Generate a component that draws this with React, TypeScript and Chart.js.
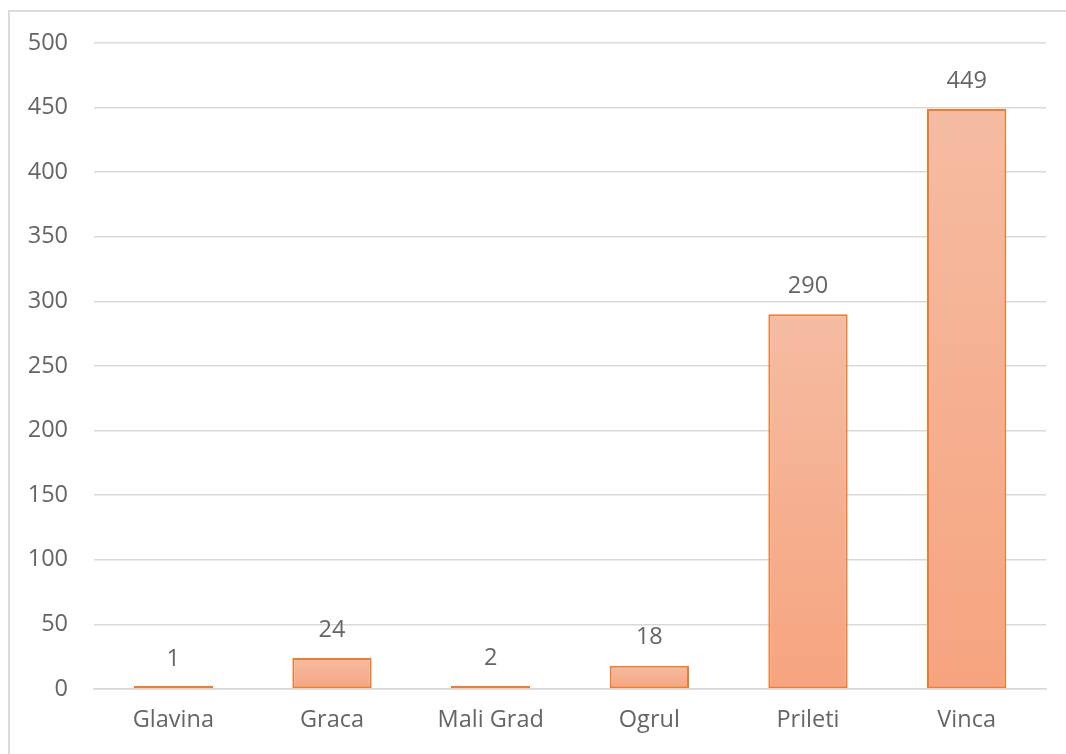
import React, { useEffect, useRef } from "react";
import { Chart, registerables } from "chart.js";

Chart.register(...registerables);

const categories = ["Glavina", "Graca", "Mali Grad", "Ogrul", "Prileti", "Vinca"];
const values = [1, 24, 2, 18, 290, 449];
const yMin = 0;
const yMax = 500;
const yStep = 50;

const FONT = "'Open Sans', 'Noto Sans', sans-serif";
const TEXT_COLOR = "#656565";

const dataLabelPlugin = {
  id: "dataLabels",
  afterDatasetsDraw(chart: any) {
    const ctx = chart.ctx;
    const meta = chart.getDatasetMeta(0);
    const ys = chart.scales.y;
    ctx.save();
    ctx.font = `23.5px ${FONT}`;
    ctx.fillStyle = TEXT_COLOR;
    ctx.textAlign = "center";
    ctx.textBaseline = "middle";
    meta.data.forEach((el: any, i: number) => {
      const top = ys.getPixelForValue(values[i]);
      ctx.fillText(String(values[i]), el.x, top - 28);
    });
    ctx.restore();
  },
};

export default function App() {
  const ref = useRef<HTMLCanvasElement | null>(null);

  useEffect(() => {
    if (!ref.current) return;
    const chart = new Chart(ref.current, {
      type: "bar",
      data: {
        labels: categories,
        datasets: [
          {
            data: values,
            backgroundColor: (c: any) => {
              const ch = c.chart;
              const area = ch.chartArea;
              const ys = ch.scales?.y;
              if (!area || !ys || c.parsed == null) return "#F5AE8E";
              const top = ys.getPixelForValue(c.parsed.y);
              const base = ys.getPixelForValue(0);
              if (!(isFinite(top) && isFinite(base)) || Math.abs(base - top) < 4) return "#F5AE8E";
              const g = ch.ctx.createLinearGradient(0, top, 0, base);
              g.addColorStop(0, "#F5BCA2");
              g.addColorStop(1, "#F6A47F");
              return g;
            },
            borderColor: "#ED7D31",
            borderWidth: 2,
            borderSkipped: false,
            minBarLength: 3,
            barPercentage: 1,
            categoryPercentage: 0.5,
          },
        ],
      },
      options: {
        animation: false,
        responsive: false,
        maintainAspectRatio: false,
        layout: { padding: { top: 43, right: 20, bottom: 0, left: 0 } },
        plugins: {
          legend: { display: false },
          tooltip: { enabled: false },
          title: { display: false },
        },
        scales: {
          x: {
            grid: { display: false, drawTicks: false },
            border: { display: true, color: "#d9d9d9", width: 1.5 },
            ticks: {
              color: TEXT_COLOR,
              font: { family: FONT, size: 23.5 },
              padding: 17,
              maxRotation: 0,
            },
            afterFit: (s: any) => {
              s.height = 65;
            },
          },
          y: {
            min: yMin,
            max: yMax,
            grid: { color: "#d9d9d9", lineWidth: 1.5, drawTicks: false },
            border: { display: false },
            ticks: {
              stepSize: yStep,
              color: TEXT_COLOR,
              font: { family: FONT, size: 23.5 },
              padding: 26,
            },
            afterFit: (s: any) => {
              s.width = 94;
            },
          },
        },
      },
      plugins: [dataLabelPlugin],
    } as any);
    return () => chart.destroy();
  }, []);

  return (
    <div
      style={{
        position: "fixed",
        left: 0,
        top: 0,
        width: 1066,
        height: 754,
        overflow: "hidden",
        background: "#fff",
      }}
    >
      <div
        style={{
          position: "absolute",
          left: 8,
          top: 10,
          width: 1058,
          height: 744,
          borderTop: "2px solid #dcdcdc",
          borderLeft: "2px solid #dcdcdc",
          boxSizing: "border-box",
        }}
      />
      <canvas
        ref={ref}
        width={1066}
        height={754}
        style={{ position: "absolute", left: 0, top: 0, width: 1066, height: 754 }}
      />
    </div>
  );
}
